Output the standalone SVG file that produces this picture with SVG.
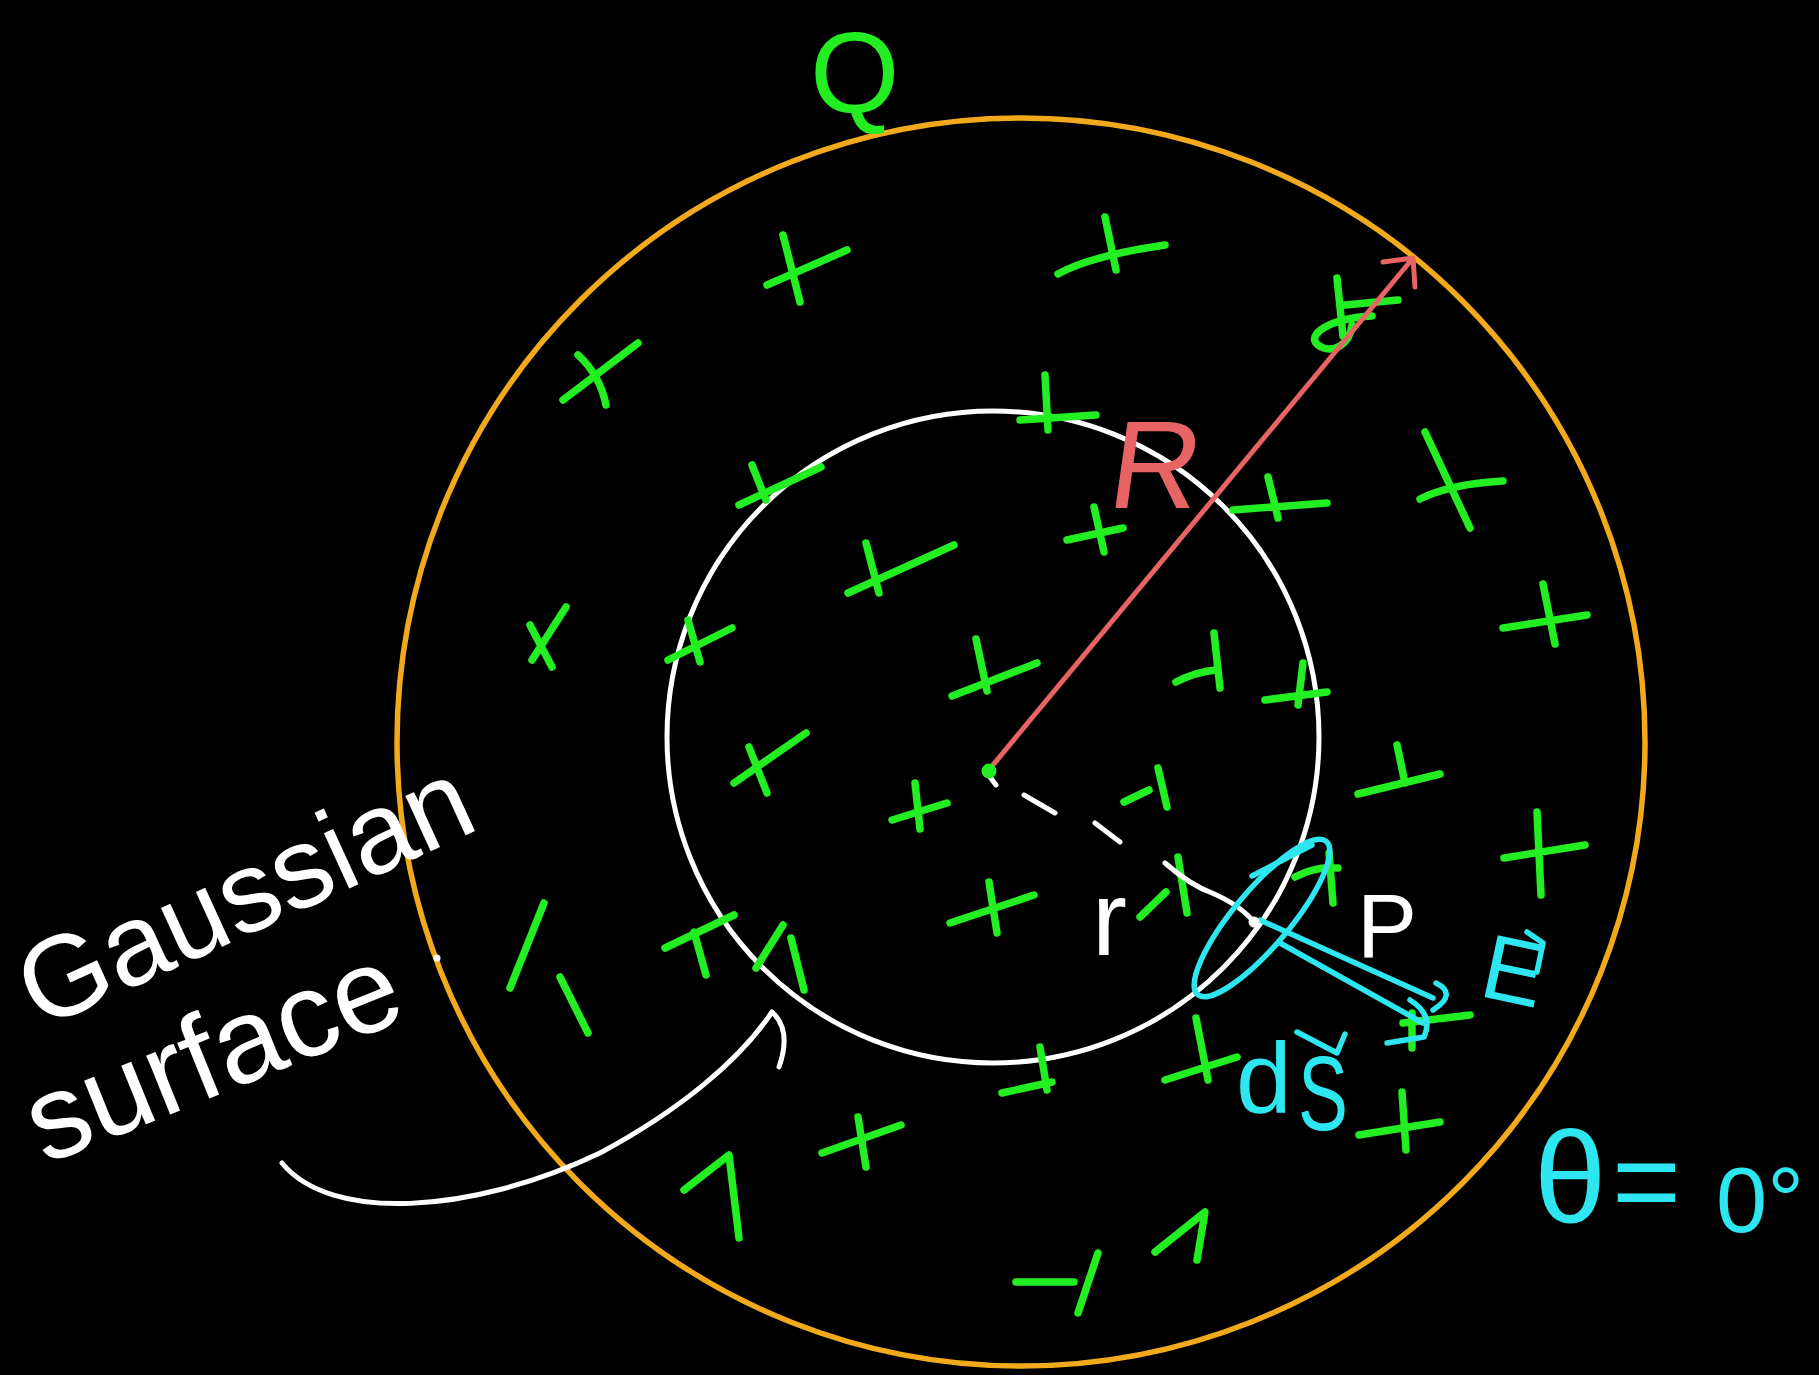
<svg xmlns="http://www.w3.org/2000/svg" width="1819" height="1375" viewBox="0 0 1819 1375">
<style>
.g{fill:none;stroke:#22ee22;stroke-width:7.5;stroke-linecap:round;stroke-linejoin:round}
.w{fill:none;stroke:#ffffff;stroke-width:5;stroke-linecap:round;stroke-linejoin:round}
.c{fill:none;stroke:#2ee6f0;stroke-width:5.5;stroke-linecap:round;stroke-linejoin:round}
.t{font-family:"Liberation Sans","DejaVu Sans",sans-serif}
</style>
<rect width="1819" height="1375" fill="#000"/>
<g id="outer-sphere"><circle cx="1021" cy="742" r="624" fill="none" stroke="#f2aa1c" stroke-width="5.5"/></g>
<g id="gaussian-surface"><circle cx="993" cy="737" r="326" fill="none" stroke="#ffffff" stroke-width="5"/></g>
<g id="charges">
<path class="g" d="M783,235 L800,302 M767,285 L847,250"/>
<path class="g" d="M1105,217 L1116,270 M1058,274 Q1090,256 1165,245"/>
<path class="g" d="M563,400 L638,343 M578,355 Q600,375 606,405"/>
<path class="g" d="M1045,375 L1048,430 M1020,420 L1096,415"/>
<path class="g" d="M739,505 L821,467 M752,465 L766,500"/>
<path class="g" d="M866,543 L879,593 M848,593 L954,545"/>
<path class="g" d="M1067,540 L1123,528 M1094,507 L1104,552"/>
<path class="g" d="M530,625 L552,667 M566,607 L532,660"/>
<path class="g" d="M668,660 L732,628 M688,620 L700,662"/>
<path class="g" d="M734,783 L806,733 M749,747 L767,793"/>
<path class="g" d="M952,696 L1037,663 M976,639 L987,691"/>
<path class="g" d="M1176,682 Q1195,672 1216,670 M1214,633 L1220,688"/>
<path class="g" d="M1265,700 L1327,692 M1303,663 L1298,705"/>
<path class="g" d="M892,820 L947,803 M915,783 L920,829"/>
<path class="g" d="M1124,802 L1149,790 M1158,768 L1167,807"/>
<path class="g" d="M950,923 L1034,895 M989,882 L997,933"/>
<path class="g" d="M1140,917 L1166,892 M1178,857 L1187,913"/>
<path class="g" d="M665,948 L734,915 M694,932 L706,975"/>
<path class="g" d="M756,968 L783,925 M791,938 L804,990"/>
<path class="g" d="M1295,877 Q1315,866 1338,868 M1329,853 L1333,903"/>
<path class="g" d="M1504,858 L1585,845 M1537,812 L1541,895"/>
<path class="g" d="M1165,1080 L1237,1057 M1196,1018 L1208,1080"/>
<path class="g" d="M1403,1023 L1470,1015 M1412,1013 L1412,1048"/>
<path class="g" d="M1359,1135 L1440,1122 M1402,1092 L1406,1150"/>
<path class="g" d="M1155,1252 L1205,1212 L1197,1260"/>
<path class="g" d="M1337,278 L1343,336 M1345,305 L1398,300 M1372,316 C1330,318 1305,335 1318,345 C1332,355 1350,345 1352,325"/>
<path class="g" d="M1233,510 L1327,503 M1268,477 L1278,518"/>
<path class="g" d="M1425,432 L1470,528 M1420,499 Q1450,484 1503,481"/>
<path class="g" d="M1503,628 L1587,615 M1543,584 L1555,644"/>
<path class="g" d="M1358,794 L1440,774 M1397,745 L1405,783"/>
<path class="g" d="M1002,1093 L1052,1082 M1040,1047 L1047,1090"/>
<path class="g" d="M822,1153 L901,1125 M858,1117 L866,1167"/>
<path class="g" d="M684,1190 L729,1155 L739,1238"/>
<path class="g" d="M1016,1282 L1074,1282 M1098,1253 L1078,1313"/>
<path class="g" d="M510,988 L544,903"/>
<path class="g" d="M560,977 L588,1033"/>
</g>
<g id="connectors">
<path id="radius-R" d="M988,771 L1413,258 M1383,262 L1413,258 L1415,287" fill="none" stroke="#e86464" stroke-width="5" stroke-linecap="round" stroke-linejoin="round"/>
<path id="radius-r" class="w" d="M990,777 L996,785 M1024,795 L1055,813 M1095,823 L1120,842 M1165,863 Q1190,885 1212,893 Q1240,905 1254,922"/>
<path id="label-pointer" class="w" d="M282,1163 C330,1222 470,1215 600,1153 C680,1110 740,1060 772,1012 Q792,1030 779,1067"/>
<path id="vector-E" class="c" d="M1260,920 L1433,998 M1436,983 Q1458,994 1433,1010"/>
<path id="vector-dS" class="c" d="M1280,943 L1423,1023 M1410,1000 Q1434,1015 1424,1037 L1387,1043"/>
</g>
<g id="center-charge"><circle cx="989" cy="771" r="7.5" fill="#22ee22"/></g>
<g id="area-element">
<ellipse cx="1262" cy="918" rx="100" ry="28" transform="rotate(-50 1262 918)" fill="none" stroke="#2ee6f0" stroke-width="5.5"/>
<path class="c" d="M1252,876 L1312,845" stroke-width="8"/>
</g>
<g id="point-P"><circle cx="1254" cy="922" r="5.5" fill="#ffffff"/></g>
<g id="labels">
<text class="t" x="810" y="112" font-size="115" fill="#22ee22">Q</text>
<text class="t" x="1112" y="508" font-size="125" fill="#e86464" transform="skewX(-8)" style="transform-origin:1150px 460px">R</text>
<text class="t" x="1357" y="957" font-size="90" fill="#ffffff">P</text>
<text class="t" x="1092" y="955" font-size="105" fill="#ffffff">r</text>
<text class="t" x="1236" y="1113" font-size="100" fill="#2ee6f0">d<tspan x="1298" y="1130" font-size="105" textLength="50" lengthAdjust="spacingAndGlyphs">S</tspan></text>
<path class="c" d="M1297,1032 L1337,1053 L1345,1034"/>
<text class="t" x="1484" y="1002" font-size="92" fill="#2ee6f0" transform="rotate(12 1512 967)">E</text>
<path class="c" d="M1527,932 L1543,943 L1537,972"/>
<text class="t" font-size="90" fill="#2ee6f0"><tspan x="1534" y="1222" font-size="130">θ</tspan><tspan x="1612" y="1222" font-size="118">=</tspan><tspan x="1716" y="1232" font-size="92">0°</tspan></text>
<text class="t" x="40" y="1030" font-size="115" fill="#ffffff" transform="rotate(-24.6 40 1030)">Gaussian</text>
<text class="t" x="45" y="1165" font-size="120" fill="#ffffff" transform="rotate(-22 45 1165)">surface</text>
<circle cx="437" cy="958" r="3.5" fill="#ffffff"/>
</g>
</svg>
